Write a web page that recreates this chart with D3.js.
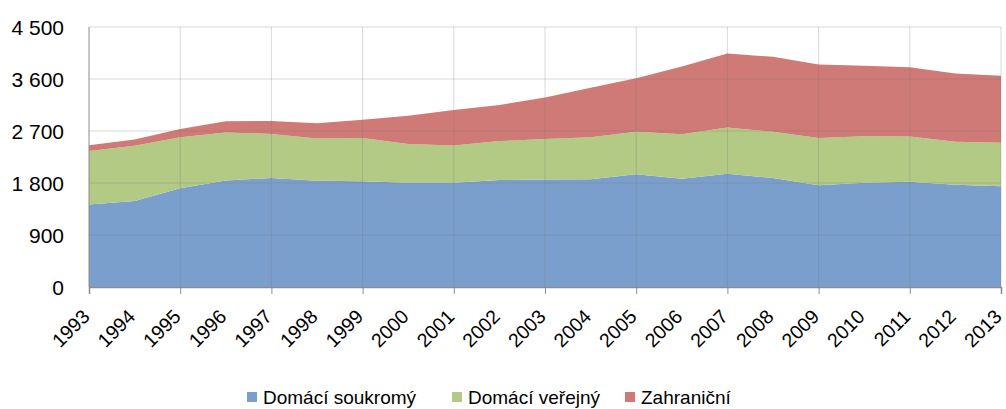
<!DOCTYPE html>
<html>
<head>
<meta charset="utf-8">
<script src="https://cdn.jsdelivr.net/npm/d3@7"></script>
<style>
  body { margin: 0; background: #fff; }
  text { font-family: "Liberation Sans", Arial, sans-serif; fill: #000; }
</style>
</head>
<body>
<script>
// data
var years = [1993, 1994, 1995, 1996, 1997, 1998, 1999, 2000, 2001, 2002, 2003,
             2004, 2005, 2006, 2007, 2008, 2009, 2010, 2011, 2012, 2013]
var soukromy = [1430, 1490, 1710, 1845, 1885, 1840, 1830, 1805, 1805, 1850, 1860,
                1865, 1950, 1875, 1960, 1885, 1760, 1805, 1820, 1770, 1745]
var verejny = [925, 955, 880, 830, 765, 730, 750, 670, 645, 675, 700,
               725, 735, 770, 800, 800, 820, 805, 785, 745, 750]
var zahranicni = [100, 110, 145, 195, 225, 265, 315, 490, 615, 625, 720,
                  860, 930, 1170, 1280, 1300, 1270, 1220, 1200, 1180, 1160]
var yTicks = [0, 900, 1800, 2700, 3600, 4500]
var seriesNames = ["Domácí soukromý", "Domácí veřejný", "Zahraniční"]
var colors = ["#7a9fcd", "#b3ca85", "#cf7a77"]

var W = 1006, H = 409
var m = {left: 89, right: 5, top: 27, bottom: 122}

var svg = d3.select("body").append("svg")
  .attr("width", W)
  .attr("height", H)

var x = d3.scaleLinear().domain([1993, 2013]).range([m.left, W - m.right])
var y = d3.scaleLinear().domain([0, 4500]).range([H - m.bottom, m.top])

var rows = years.map((yr, i) => ({year: yr, s: soukromy[i], v: verejny[i], z: zahranicni[i]}))
var stack = d3.stack().keys(["s", "v", "z"])(rows)

var area = d3.area()
  .x(d => x(d.data.year))
  .y0(d => y(d[0]))
  .y1(d => y(d[1]))

svg.selectAll("path.layer").data(stack).enter().append("path")
  .attr("class", "layer")
  .attr("d", area)
  .attr("fill", (d, i) => colors[i])

// gridlines drawn over the areas, faint
var gridYears = years.filter(yr => (yr - 1993) % 2 == 0)
svg.append("g").selectAll("line").data(yTicks.slice(1)).enter().append("line")
  .attr("x1", m.left).attr("x2", W - m.right)
  .attr("y1", d => y(d)).attr("y2", d => y(d))
  .attr("stroke", "rgba(120,120,120,0.28)")
svg.append("g").selectAll("line").data(gridYears.slice(1)).enter().append("line")
  .attr("x1", d => x(d)).attr("x2", d => x(d))
  .attr("y1", m.top).attr("y2", y(0))
  .attr("stroke", "rgba(120,120,120,0.28)")

// axes
var xAxis = d3.axisBottom(x).tickValues(gridYears).tickSize(7).tickFormat("")
var gx = svg.append("g").attr("transform", "translate(0," + y(0) + ")").call(xAxis)
gx.select(".domain").attr("stroke", "#8c8c8c").attr("stroke-width", 1.5)
gx.selectAll(".tick line").attr("stroke", "#8c8c8c")

svg.append("line")
  .attr("x1", m.left).attr("x2", m.left)
  .attr("y1", m.top).attr("y2", y(0))
  .attr("stroke", "#8c8c8c")

svg.append("g").selectAll("text").data(years).enter().append("text")
  .attr("transform", d => "translate(" + (x(d) - 3) + "," + (y(0) + 26) + ") rotate(-45)")
  .attr("text-anchor", "end")
  .attr("dy", "0.35em")
  .style("font-size", "19.5px")
  .text(d => d)

var fmt = v => d3.format(",")(v).replace(",", " ")
svg.append("g").selectAll("text").data(yTicks).enter().append("text")
  .attr("x", 64)
  .attr("y", d => y(d))
  .attr("dy", "0.36em")
  .attr("text-anchor", "end")
  .style("font-size", "21px")
  .text(fmt)

// legend
var legX = [247, 452, 625]
var leg = svg.append("g").selectAll("g").data(seriesNames).enter().append("g")
  .attr("transform", (d, i) => "translate(" + legX[i] + ",392)")
leg.append("rect").attr("width", 10).attr("height", 10).attr("fill", (d, i) => colors[i])
leg.append("text")
  .attr("x", 16).attr("y", 5).attr("dy", "0.36em")
  .style("font-size", "19px")
  .text(d => d)
</script>
</body>
</html>
